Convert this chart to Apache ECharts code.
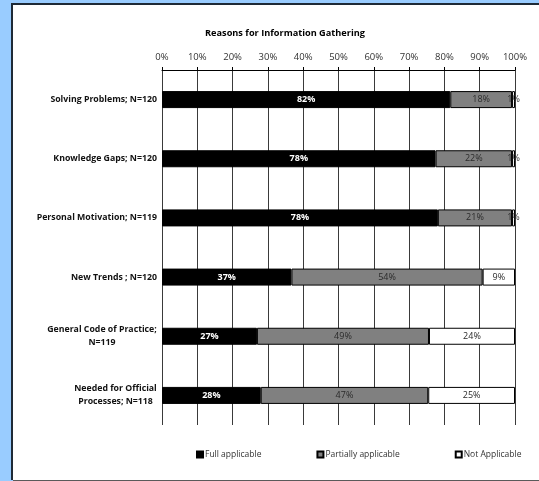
<!DOCTYPE html>
<html>
<head>
<meta charset="utf-8">
<script src="https://cdn.jsdelivr.net/npm/echarts@6/dist/echarts.min.js"></script>
<style>
  html, body { margin: 0; padding: 0; background: #99ccff; overflow: hidden; }
  #chart { position: absolute; left: 0; top: 0; width: 539px; height: 481px; }
</style>
</head>
<body>
<div id="chart"></div>
<script>
// Survey answers: why respondents gather information
const categories = [
  'Solving Problems; N=120',
  'Knowledge Gaps; N=120',
  'Personal Motivation; N=119',
  'New Trends ; N=120',
  'General Code of Practice;\nN=119',
  'Needed for Official\nProcesses; N=118'
];
const respondents = [120, 120, 119, 120, 119, 118];
// answer counts per reason
const fullCount    = [98, 93, 93, 44, 32, 33];
const partialCount = [21, 26, 25, 65, 58, 56];
const notCount     = [1, 1, 1, 11, 29, 29];
const seriesNames = ['Full applicable', 'Partially applicable', 'Not Applicable'];
const titleText = 'Reasons for Information Gathering';

const toShare = counts => counts.map((c, i) => c / respondents[i] * 100);

const FONT = '"Open Sans", "DejaVu Sans", sans-serif';
const CAT_SIZE = 8.75;

// centre the lines of wrapped category names inside a block as wide as the longest line
const ctx = document.createElement('canvas').getContext('2d');
ctx.font = 'bold ' + CAT_SIZE + 'px "Open Sans"';
const rich = {};
const labelFmt = {};
categories.forEach((name, i) => {
  const lines = name.split('\n');
  if (lines.length > 1) {
    const w = Math.ceil(Math.max(...lines.map(l => ctx.measureText(l).width)));
    const key = 'w' + i;
    rich[key] = { width: w, align: 'center', fontFamily: FONT, fontWeight: 'bold', fontSize: CAT_SIZE, color: '#111', lineHeight: 13 };
    labelFmt[name] = lines.map(l => '{' + key + '|' + l + '}').join('\n');
  }
});

const chart = echarts.init(document.getElementById('chart'), null, { renderer: 'canvas' });

const barStyle = [
  { color: '#000000', borderColor: '#000000', borderWidth: 1 },
  { color: '#808080', borderColor: '#000000', borderWidth: 1 },
  { color: '#ffffff', borderColor: '#000000', borderWidth: 1 }
];
const labelStyle = [
  { color: '#ffffff', fontWeight: 'bold' },
  { color: '#2a2a2a', fontWeight: 'normal' },
  { color: '#2a2a2a', fontWeight: 'normal' }
];

const data = [toShare(fullCount), toShare(partialCount), toShare(notCount)];

chart.setOption({
  animation: false,
  backgroundColor: '#99ccff',
  textStyle: { fontFamily: FONT },
  // white chart area with its dark frame, open on the right
  graphic: [
    { type: 'rect', z: -10, silent: true,
      shape: { x: 11, y: 3, width: 540, height: 477 },
      style: { fill: '#ffffff' } },
    { type: 'polyline', z: -9, silent: true,
      shape: { points: [[12, 480], [12, 4], [539, 4]] },
      style: { stroke: '#1e2a36', lineWidth: 2, fill: null } },
    { type: 'line', z: -9, silent: true,
      shape: { x1: 13, y1: 480.5, x2: 539, y2: 480.5 },
      style: { stroke: '#5a5a5a', lineWidth: 1 } }
  ],
  title: {
    text: titleText,
    left: 280, top: 24, textAlign: 'center',
    textStyle: { fontFamily: FONT, fontSize: 9.2, fontWeight: 'bold', color: '#000' }
  },
  legend: {
    left: 191, top: 445,
    icon: 'rect', itemWidth: 6, itemHeight: 6, itemGap: 55,
    textStyle: { fontFamily: FONT, fontSize: 8.5, color: '#333', padding: [0, 0, 0, -3] },
    data: seriesNames
  },
  grid: { left: 162, right: 24, top: 70, bottom: 56, containLabel: false },
  xAxis: {
    type: 'value', position: 'top', min: 0, max: 100, interval: 10,
    axisLine: { show: true, lineStyle: { color: '#000', width: 1 } },
    axisTick: { show: true, length: 3, lineStyle: { color: '#000' } },
    axisLabel: { formatter: '{value}%', fontFamily: FONT, fontSize: 9.5, color: '#333', margin: 8 },
    splitLine: { show: true, lineStyle: { color: '#3a3a3a', width: 1 } }
  },
  yAxis: {
    type: 'category', inverse: true, data: categories,
    axisLine: { show: false }, axisTick: { show: false },
    axisLabel: {
      fontFamily: FONT, fontSize: CAT_SIZE, fontWeight: 'bold', color: '#111', margin: 5,
      lineHeight: 13,
      formatter: v => labelFmt[v] || v,
      rich: rich
    }
  },
  series: seriesNames.map((name, k) => ({
    name: name, type: 'bar', stack: 'share', barWidth: 17,
    data: data[k],
    itemStyle: barStyle[k],
    label: {
      show: true, position: 'inside',
      fontFamily: FONT, fontSize: 9,
      color: labelStyle[k].color, fontWeight: labelStyle[k].fontWeight,
      formatter: p => Math.round(p.value) + '%'
    }
  }))
});
</script>
</body>
</html>
